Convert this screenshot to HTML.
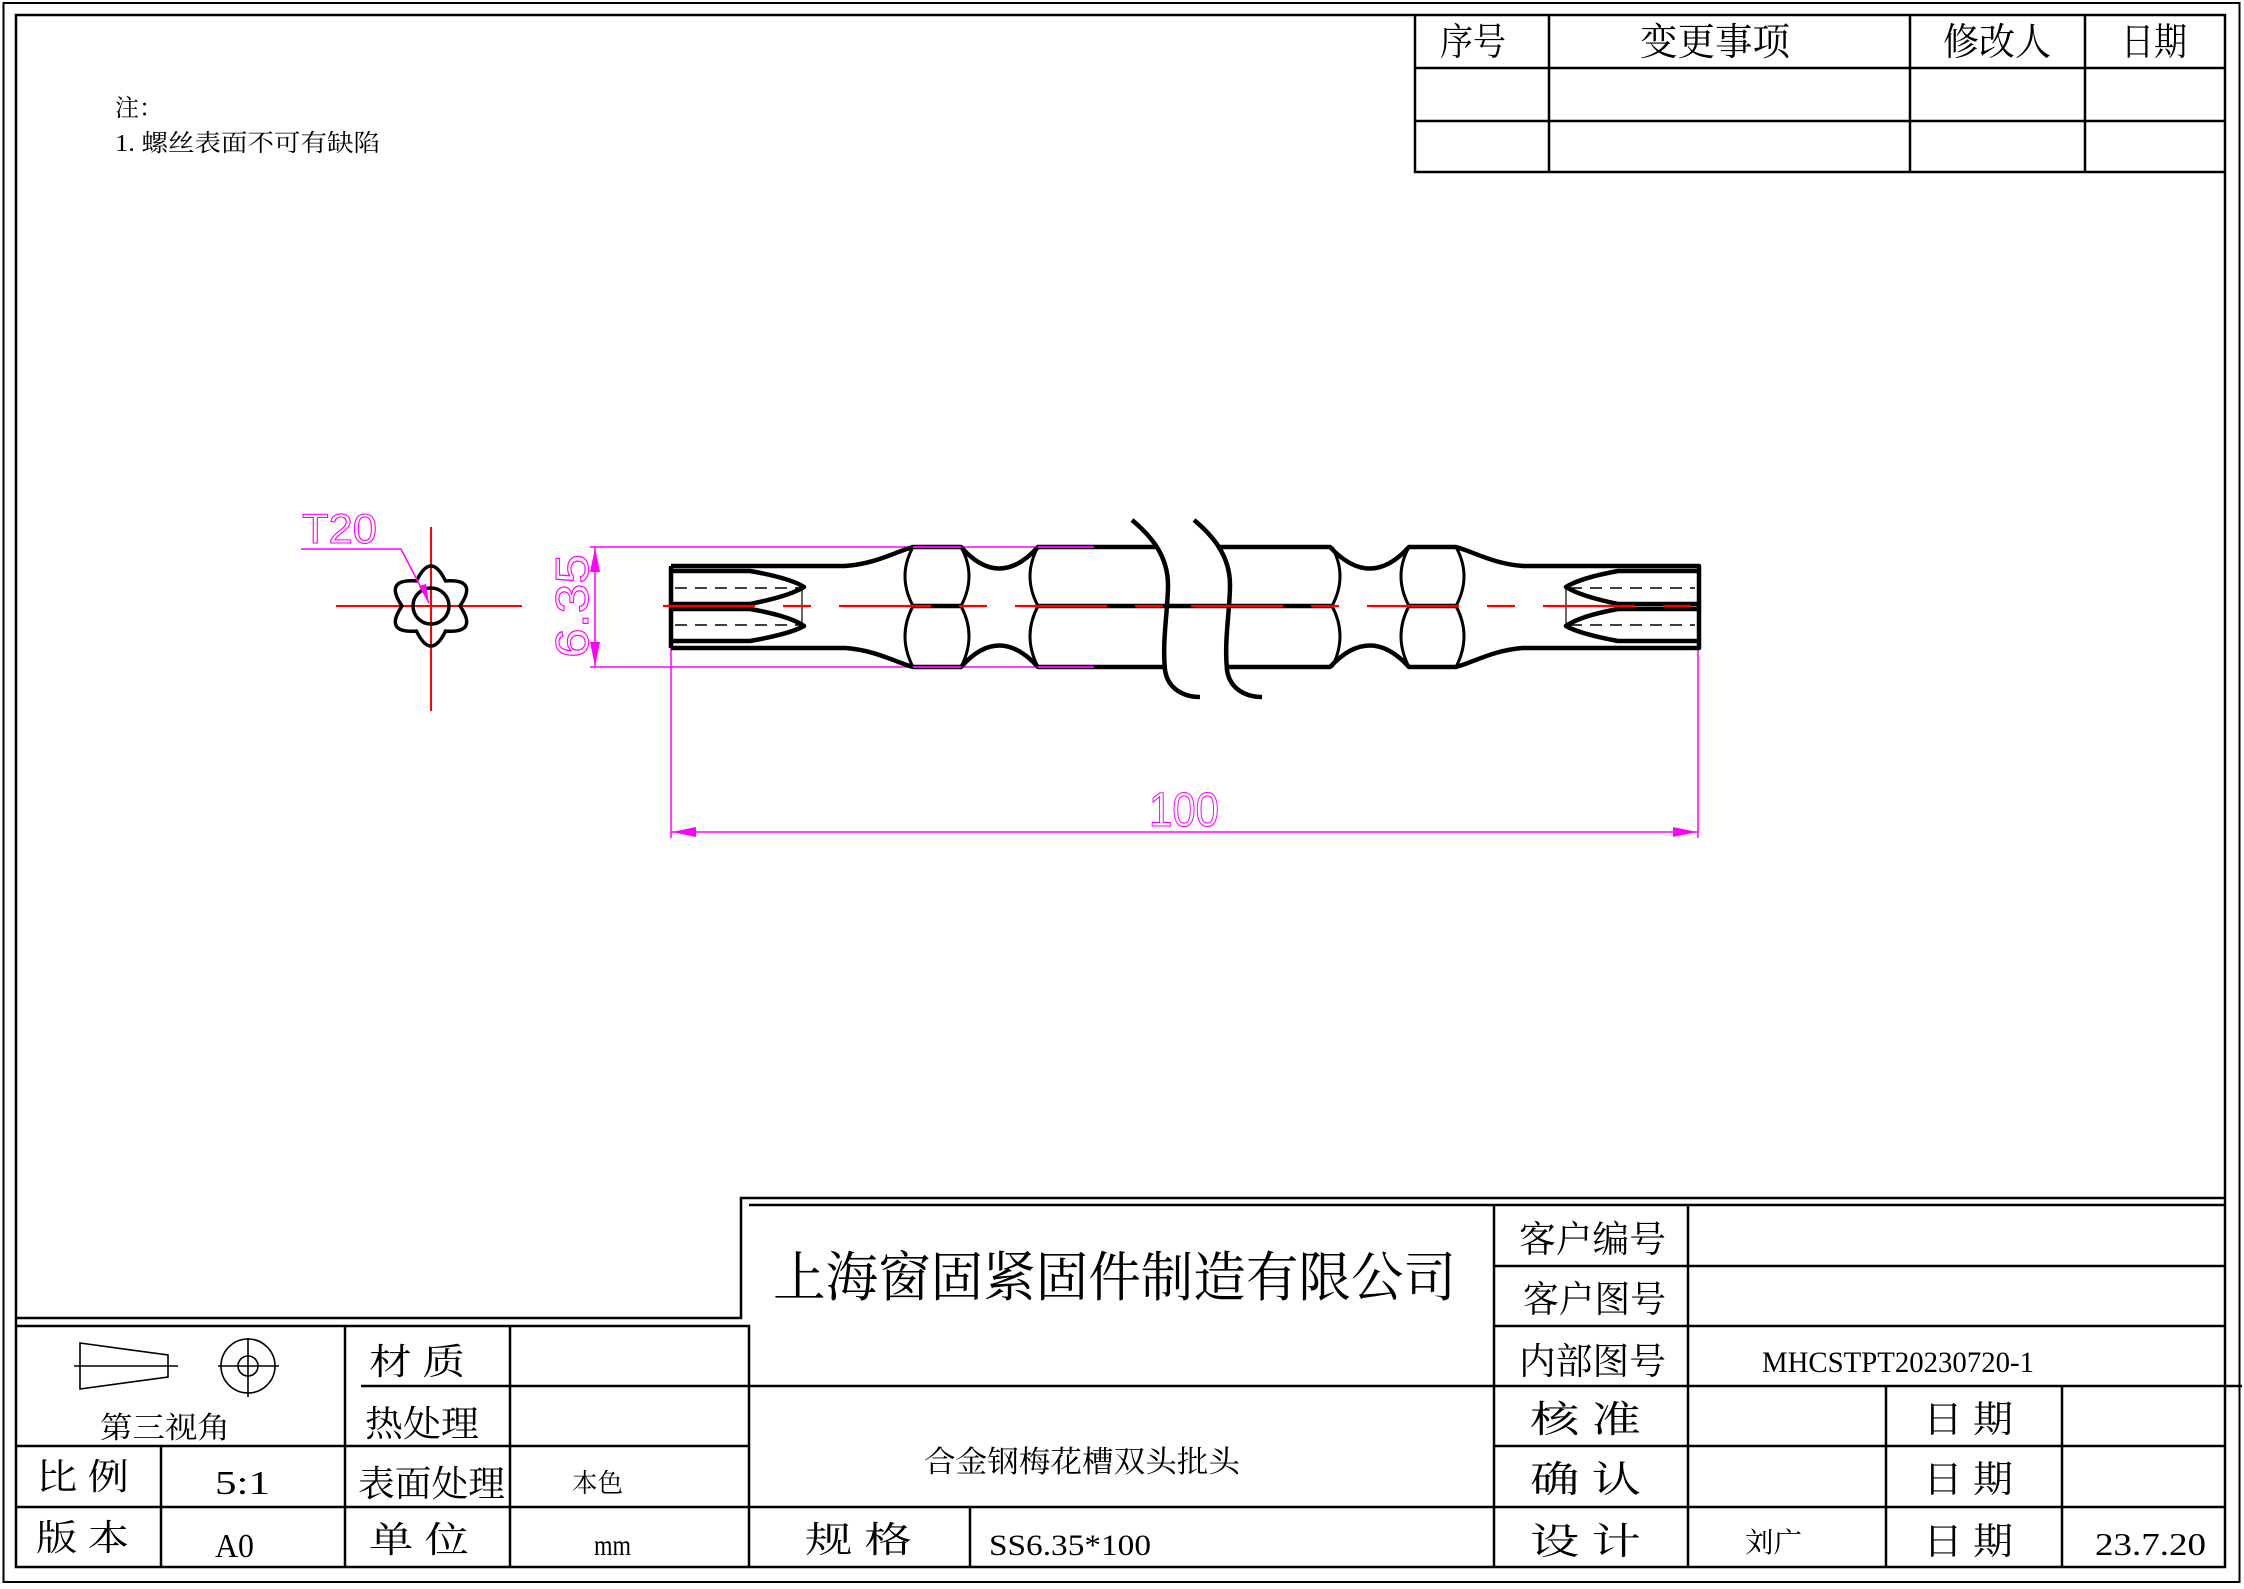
<!DOCTYPE html>
<html><head><meta charset="utf-8"><style>
html,body{margin:0;padding:0;background:#fff;}
svg{display:block;}
.t{font-family:"Liberation Serif","Noto Serif CJK SC",serif;fill:#000;}
.m{font-family:"Liberation Sans","DejaVu Sans",sans-serif;fill:none;stroke:#f0f;stroke-width:1.1;}
</style></head><body>
<svg width="2244" height="1589" viewBox="0 0 2244 1589" xmlns="http://www.w3.org/2000/svg" xml:space="preserve">
<rect width="2244" height="1589" fill="#fff"/>
<rect x="3.5" y="3" width="2236" height="1579" fill="none" stroke="#000" stroke-width="2"/>
<rect x="16" y="15" width="2209" height="1552" fill="none" stroke="#000" stroke-width="2.5"/>

<text class="t" x="115" y="116" font-size="24">注：</text>
<text class="t" x="115" y="151" font-size="24" textLength="265" lengthAdjust="spacingAndGlyphs">1. 螺丝表面不可有缺陷</text>

<g stroke="#000" stroke-width="2.5" fill="none">
<path d="M1415 15 V172 H2225 M1415 68 H2225 M1415 121 H2225 M1549 15 V172 M1910 15 V172 M2085 15 V172"/>
</g>
<text class="t" x="1440" y="55" font-size="38" textLength="66" lengthAdjust="spacingAndGlyphs">序号</text>
<text class="t" x="1640" y="55" font-size="38" textLength="150" lengthAdjust="spacingAndGlyphs">变更事项</text>
<text class="t" x="1943" y="55" font-size="38" textLength="108" lengthAdjust="spacingAndGlyphs">修改人</text>
<text class="t" x="2121" y="55" font-size="38" textLength="66" lengthAdjust="spacingAndGlyphs">日期</text>

<g stroke="#000" stroke-width="2.5" fill="none">
<path d="M16 1318 H741 V1198 H2225"/>
<path d="M16 1326 H749 V1567 M749 1205 H2225"/>
<path d="M345 1326 V1567 M510 1326 V1567 M361 1386 H749 M16 1446 H749 M161 1446 V1567 M16 1507 H749"/>
<path d="M749 1386 H2242 M749 1507 H2225 M970 1507 V1567"/>
<path d="M1494 1205 V1567 M1688 1205 V1567 M1494 1266 H2225 M1494 1326 H2225 M1494 1446 H2225 M1886 1386 V1567 M2062 1386 V1567"/>
</g>
<g stroke="#000" stroke-width="1.6" fill="none">
<path d="M80 1343 L168 1355 L168 1377 L80 1389 Z"/>
<path d="M74 1366 H178"/>
<circle cx="248" cy="1366" r="27"/>
<circle cx="248" cy="1366" r="10"/>
<path d="M218 1366 H279 M248 1338 V1397"/>
</g>
<text class="t" x="100" y="1438" font-size="30" textLength="130" lengthAdjust="spacingAndGlyphs">第三视角</text>

<g class="t">
<text x="369" y="1374" font-size="36" textLength="96" lengthAdjust="spacingAndGlyphs">材 质</text>
<text x="365" y="1436" font-size="36" textLength="114" lengthAdjust="spacingAndGlyphs">热处理</text>
<text x="36" y="1489" font-size="36" textLength="93" lengthAdjust="spacingAndGlyphs">比 例</text>
<text x="215" y="1494" font-size="34" textLength="55" lengthAdjust="spacingAndGlyphs">5:1</text>
<text x="358" y="1496" font-size="36" textLength="147" lengthAdjust="spacingAndGlyphs">表面处理</text>
<text x="572" y="1492" font-size="26" textLength="51" lengthAdjust="spacingAndGlyphs">本色</text>
<text x="36" y="1550" font-size="36" textLength="93" lengthAdjust="spacingAndGlyphs">版 本</text>
<text x="215" y="1557" font-size="34" textLength="39" lengthAdjust="spacingAndGlyphs">A0</text>
<text x="369" y="1552" font-size="36" textLength="100" lengthAdjust="spacingAndGlyphs">单 位</text>
<text x="594" y="1555" font-size="30" textLength="37" lengthAdjust="spacingAndGlyphs">mm</text>
<text x="805" y="1552" font-size="36" textLength="107" lengthAdjust="spacingAndGlyphs">规  格</text>
<text x="989" y="1555" font-size="30" textLength="162" lengthAdjust="spacingAndGlyphs">SS6.35*100</text>
<text x="773" y="1296" font-size="54" textLength="683" lengthAdjust="spacingAndGlyphs">上海窗固紧固件制造有限公司</text>
<text x="924" y="1472" font-size="30" textLength="316" lengthAdjust="spacingAndGlyphs">合金钢梅花槽双头批头</text>
<text x="1519" y="1252" font-size="37" textLength="147" lengthAdjust="spacingAndGlyphs">客户编号</text>
<text x="1523" y="1312" font-size="37" textLength="143" lengthAdjust="spacingAndGlyphs">客户图号</text>
<text x="1519" y="1374" font-size="37" textLength="147" lengthAdjust="spacingAndGlyphs">内部图号</text>
<text x="1762" y="1372" font-size="30" textLength="272" lengthAdjust="spacingAndGlyphs">MHCSTPT20230720-1</text>
<text x="1530" y="1432" font-size="37" textLength="111" lengthAdjust="spacingAndGlyphs">核  准</text>
<text x="1530" y="1492" font-size="37" textLength="111" lengthAdjust="spacingAndGlyphs">确  认</text>
<text x="1530" y="1554" font-size="37" textLength="111" lengthAdjust="spacingAndGlyphs">设  计</text>
<text x="1923" y="1432" font-size="37" textLength="90" lengthAdjust="spacingAndGlyphs">日 期</text>
<text x="1923" y="1492" font-size="37" textLength="90" lengthAdjust="spacingAndGlyphs">日 期</text>
<text x="1923" y="1554" font-size="37" textLength="90" lengthAdjust="spacingAndGlyphs">日 期</text>
<text x="1745" y="1552" font-size="28" textLength="57" lengthAdjust="spacingAndGlyphs">刘广</text>
<text x="2095" y="1555" font-size="32" textLength="111" lengthAdjust="spacingAndGlyphs">23.7.20</text>
</g>

<g stroke="#f00" stroke-width="2" fill="none">
<path d="M336 606 H522 M431 527 V711"/>
</g>
<path d="M460 606 Q478.6 633.5 445.5 631.1 Q431 661 416.5 631.1 Q383.4 633.5 402 606 Q383.4 578.5 416.5 580.9 Q431 551 445.5 580.9 Q478.6 578.5 460 606 Z" fill="none" stroke="#000" stroke-width="3.5"/>
<circle cx="431" cy="606" r="18" fill="none" stroke="#000" stroke-width="3.5"/>
<g stroke="#f0f" stroke-width="1.5" fill="none">
<path d="M301 549 H401 L429 603"/>
</g>
<path d="M429 604 L419 586 L426 584 Z" fill="#f0f"/>
<text class="m" x="302" y="543" font-size="42" textLength="75" lengthAdjust="spacingAndGlyphs">T20</text>

<g stroke="#f0f" stroke-width="1.5" fill="none">
<path d="M590 547 H1094 M590 667 H1094 M595 547 V667"/>
<path d="M671 612 V838 M1698 612 V838 M671 832 H1698"/>
</g>
<path d="M595 548 L590 572 L600 572 Z M595 666 L590 642 L600 642 Z M672 832 L696 827 L696 837 Z M1697 832 L1673 827 L1673 837 Z" fill="#f0f"/>
<text class="m" transform="translate(588 658) rotate(-90)" x="0" y="0" font-size="46" textLength="104" lengthAdjust="spacingAndGlyphs">6.35</text>
<text class="m" x="1149" y="826" font-size="48" textLength="70" lengthAdjust="spacingAndGlyphs">100</text>

<g stroke="#000" stroke-width="4.5" fill="none" stroke-linejoin="round">
<path d="M671 566 V648"/>
<path d="M671 566 H845 C875 564 895 552 913 547 H961 Q999 590 1038 547 H1155"/>
<path d="M671 648 H845 C875 650 895 662 913 667 H961 Q999 624 1038 667 H1165"/>
<path d="M1217 547 H1330 Q1370 590 1409 547 H1456 C1474 552 1494 564 1523 566 H1699 V648 H1523 C1494 650 1474 662 1456 667 H1409 Q1370 624 1330 667 H1227"/>
<path d="M671 571 H750 Q790 578 804 587 Q790 596 750 604 H671"/>
<path d="M671 609 H750 Q790 616 804 626 Q790 634 750 641 H671"/>
<path d="M1699 571 H1618 Q1580 578 1566 587 Q1580 596 1618 604 H1699"/>
<path d="M1699 609 H1618 Q1580 616 1566 626 Q1580 634 1618 641 H1699"/>
<path d="M913 606 H961 M1038 606 H1332 M1409 606 H1456"/>
<path d="M1132 520 C1150 535 1168 555 1168 585 C1168 610 1162 640 1165 670 C1168 690 1185 697 1200 697"/>
<path d="M1194 520 C1212 535 1230 555 1230 585 C1230 610 1224 640 1227 670 C1230 690 1247 697 1262 697"/>
</g>
<g stroke="#000" stroke-width="3" fill="none">
<path d="M913 547 Q897 576 913 606 Q897 636 913 667"/>
<path d="M961 547 Q977 576 961 606 Q977 636 961 667"/>
<path d="M1038 547 Q1022 576 1038 606 Q1022 636 1038 667"/>
<path d="M1332 547 Q1348 576 1332 606 Q1348 636 1332 667"/>
<path d="M1409 547 Q1393 576 1409 606 Q1393 636 1409 667"/>
<path d="M1456 547 Q1472 576 1456 606 Q1472 636 1456 667"/>
</g>
<g stroke="#000" stroke-width="1.5" fill="none" stroke-dasharray="12 8">
<path d="M675 588 H800 M675 625 H800 M1570 588 H1695 M1570 625 H1695"/>
</g>
<path d="M802 587 V627 M1566 587 V627" stroke="#000" stroke-width="1.2"/>
<path d="M913 547 H961 M1038 547 H1094 M913 667 H961 M1038 667 H1094" stroke="#f0f" stroke-width="2"/>
<path d="M663 606 H1704" stroke="#f00" stroke-width="2.2" stroke-dasharray="92 28 28 28"/>
</svg>
</body></html>
